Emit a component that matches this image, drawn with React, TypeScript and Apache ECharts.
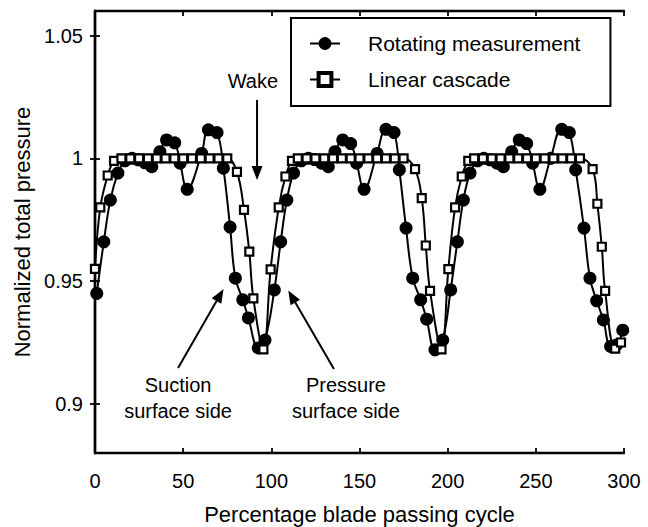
import { useEffect, useRef } from "react";
import * as echarts from "echarts";

const FONT = '"Liberation Sans", Arial, Helvetica, sans-serif';

// Axis ticks
const xTicks = [0, 50, 100, 150, 200, 250, 300];
const yTicks = [0.9, 0.95, 1, 1.05];

// Rotating measurement: [percentage of blade passing cycle, normalized total pressure]
const rotatingMeasurement: [number, number][] = [
  [1, 0.945], [5, 0.966], [8.7, 0.983], [13, 0.994], [17, 0.999], [21, 1.0], [24.5, 0.9994],
  [28.3, 0.9982], [32.2, 0.9966], [36.8, 1.0027], [40.6, 1.0075], [45.2, 1.0063], [48.3, 0.998],
  [52.3, 0.9874], [60.5, 1.002], [64.3, 1.0116], [69.2, 1.0105], [72.8, 0.996], [76.6, 0.972],
  [79.6, 0.9512], [83.8, 0.9424], [87, 0.935], [92.6, 0.9228], [96.4, 0.926],
  [101.7, 0.9464], [105.3, 0.966], [108.8, 0.983], [112.6, 0.994], [117, 0.999], [121, 1.0],
  [124.5, 0.9995], [128.5, 0.998], [132.3, 0.9966], [136.1, 1.0027], [140.5, 1.0075], [145, 1.006],
  [148.4, 0.998], [152.6, 0.9874], [160, 1.002], [165, 1.0118], [169.6, 1.0105], [172.6, 0.9953],
  [176.4, 0.9716], [180.2, 0.9512], [184.7, 0.9424], [188.1, 0.9345], [192.8, 0.922], [197.2, 0.926],
  [201.7, 0.9464], [205.5, 0.966], [208.9, 0.983], [212.7, 0.994], [217, 0.999], [220.5, 1.0],
  [224, 0.9994], [228, 0.998], [231.6, 0.9966], [236.3, 1.0027], [240.6, 1.0075], [244.8, 1.006],
  [248.2, 0.998], [252.3, 0.9874], [258.4, 1.0], [264.7, 1.0118], [269, 1.0105], [272.6, 0.9953],
  [277.3, 0.9716], [280.7, 0.9512], [284.5, 0.942], [288.3, 0.9342], [292.4, 0.9234], [295.8, 0.924],
  [299.3, 0.93],
];

// Linear cascade: [percentage of blade passing cycle, normalized total pressure]
const linearCascade: [number, number][] = [
  [0, 0.955], [3, 0.98], [7.2, 0.993], [10.8, 0.999], [15, 1], [20, 1], [25, 1], [30, 1], [35, 1],
  [40, 1], [45, 1], [50, 1], [55, 1], [60, 1], [65, 1], [70, 1], [75, 1], [80.5, 0.9945],
  [84.5, 0.979], [87.5, 0.962], [89.8, 0.943], [95.5, 0.9222], [99.6, 0.9548],
  [104.2, 0.98], [108, 0.9926], [111.7, 0.999], [115, 1], [120, 1], [125, 1], [130, 1], [135, 1],
  [140, 1], [145, 1], [150, 1], [155, 1], [160, 1], [165, 1], [170, 1], [175, 1], [181.5, 0.9956],
  [185.3, 0.9838], [187.6, 0.9645], [190, 0.946], [196.5, 0.9222], [200.4, 0.9549],
  [204.2, 0.98], [208, 0.9926], [211.7, 0.999], [215, 1], [220, 1], [225, 1], [230, 1], [235, 1],
  [240, 1], [245, 1], [250, 1], [255, 1], [260, 1], [265, 1], [270, 1], [275, 1], [282.2, 0.9956],
  [284.9, 0.9815], [287.4, 0.964], [289.3, 0.946], [295, 0.9225], [298.3, 0.925],
];

// Text notes placed in data coordinates
const notes: { text: string; at: [number, number]; align: "left" | "center" | "right" }[] = [
  { text: "Wake", at: [103.8, 1.0315], align: "right" },
  { text: "Suction\nsurface side", at: [47.1, 0.9022], align: "center" },
  { text: "Pressure\nsurface side", at: [142.3, 0.9022], align: "center" },
];

// Arrows: [from, to] in data coordinates
const arrows: [[number, number], [number, number]][] = [
  [[91.9, 1.0238], [91.9, 0.9912]],
  [[47.1, 0.9146], [72.9, 0.9468]],
  [[135.5, 0.9142], [109.6, 0.9462]],
];

export default function App() {
  const ref = useRef<HTMLDivElement>(null);

  useEffect(() => {
    if (!ref.current) return;
    const chart = echarts.init(ref.current, undefined, { renderer: "svg" });

    const axisLine = { show: true, lineStyle: { color: "#000", width: 2.4 } };
    const tickStyle = { color: "#000", width: 1.8 };

    chart.setOption({
      animation: false,
      backgroundColor: "#fff",
      textStyle: { fontFamily: FONT },
      grid: { left: 95, right: 24, top: 11, bottom: 74, outerBoundsMode: "none", containLabel: false },
      legend: {
        left: 291,
        top: 18,
        orient: "vertical",
        backgroundColor: "#fff",
        borderColor: "#000",
        borderWidth: 2,
        borderRadius: 0,
        padding: [15, 30, 16, 18],
        itemWidth: 30,
        itemHeight: 16,
        itemGap: 15,
        textStyle: { fontSize: 21, color: "#000", fontFamily: FONT, padding: [0, 0, 0, 23] },
        data: [
          { name: "Rotating measurement" },
          { name: "Linear cascade", itemStyle: { color: "#fff", borderColor: "#000", borderWidth: 4 } },
        ],
      },
      xAxis: [
        {
          type: "value",
          min: 0,
          max: 300,
          interval: 50,
          name: "Percentage blade passing cycle",
          nameLocation: "middle",
          nameGap: 50,
          nameTextStyle: { fontSize: 22, color: "#000", fontFamily: FONT },
          axisLine,
          axisTick: { show: true, inside: true, length: 5, lineStyle: tickStyle },
          axisLabel: {
            show: true,
            margin: 18,
            fontSize: 20,
            color: "#000",
            fontFamily: FONT,
            customValues: xTicks,
          },
          splitLine: { show: false },
        },
        {
          type: "value",
          position: "top",
          min: 0,
          max: 300,
          interval: 50,
          axisLine,
          axisTick: { show: true, inside: true, length: 5, lineStyle: tickStyle },
          axisLabel: { show: false },
          splitLine: { show: false },
        },
      ],
      yAxis: [
        {
          type: "value",
          min: 0.88,
          max: 1.06,
          name: "Normalized total pressure",
          nameLocation: "middle",
          nameGap: 55,
          nameTextStyle: { fontSize: 22, color: "#000", fontFamily: FONT },
          axisLine,
          axisTick: { show: true, inside: true, length: 5, lineStyle: tickStyle, customValues: yTicks },
          axisLabel: {
            show: true,
            margin: 12,
            fontSize: 20,
            color: "#000",
            fontFamily: FONT,
            customValues: yTicks,
            formatter: (v: number) => String(Math.round(v * 100) / 100),
          },
          splitLine: { show: false },
        },
        {
          type: "value",
          position: "right",
          min: 0.88,
          max: 1.06,
          axisLine,
          axisTick: { show: true, inside: true, length: 5, lineStyle: tickStyle, customValues: yTicks },
          axisLabel: { show: false, customValues: yTicks },
          splitLine: { show: false },
        },
      ],
      series: [
        {
          name: "Rotating measurement",
          type: "line",
          xAxisIndex: 0,
          yAxisIndex: 0,
          data: rotatingMeasurement,
          smooth: 0.4,
          symbol: "circle",
          symbolSize: 13,
          lineStyle: { color: "#000", width: 2 },
          itemStyle: { color: "#000", borderColor: "#000", borderWidth: 0 },
          clip: true,
          z: 2,
        },
        {
          name: "Linear cascade",
          type: "line",
          xAxisIndex: 0,
          yAxisIndex: 0,
          data: linearCascade,
          smooth: 0.4,
          symbol: "rect",
          symbolSize: 8,
          lineStyle: { color: "#000", width: 2 },
          itemStyle: { color: "#fff", borderColor: "#000", borderWidth: 2.2 },
          clip: true,
          z: 3,
        },
      ],
    });

    // Annotations (text and arrows), positioned from data coordinates
    const toPx = (p: [number, number]) =>
      chart.convertToPixel({ xAxisIndex: 0, yAxisIndex: 0 }, p) as number[];

    const graphics: any[] = [];
    notes.forEach((n) => {
      const [x, y] = toPx(n.at);
      graphics.push({
        type: "text",
        x,
        y,
        z: 10,
        style: {
          text: n.text,
          fontSize: 20,
          fontFamily: FONT,
          fill: "#000",
          align: n.align,
          verticalAlign: "middle",
          lineHeight: 26,
        },
      });
    });

    const headLen = 14;
    const headWidth = 11;
    arrows.forEach(([from, to]) => {
      const [x1, y1] = toPx(from);
      const [x2, y2] = toPx(to);
      const dx = x2 - x1;
      const dy = y2 - y1;
      const len = Math.hypot(dx, dy);
      const ux = dx / len;
      const uy = dy / len;
      const bx = x2 - ux * headLen;
      const by = y2 - uy * headLen;
      graphics.push({
        type: "line",
        z: 10,
        shape: { x1, y1, x2: bx + ux * 2, y2: by + uy * 2 },
        style: { stroke: "#000", lineWidth: 2 },
      });
      graphics.push({
        type: "polygon",
        z: 10,
        shape: {
          points: [
            [x2, y2],
            [bx - uy * (headWidth / 2), by + ux * (headWidth / 2)],
            [bx + uy * (headWidth / 2), by - ux * (headWidth / 2)],
          ],
        },
        style: { fill: "#000" },
      });
    });

    chart.setOption({ graphic: graphics });

    return () => chart.dispose();
  }, []);

  return (
    <div
      ref={ref}
      style={{ position: "fixed", left: 0, top: 0, width: 648, height: 527, background: "#fff" }}
    />
  );
}
